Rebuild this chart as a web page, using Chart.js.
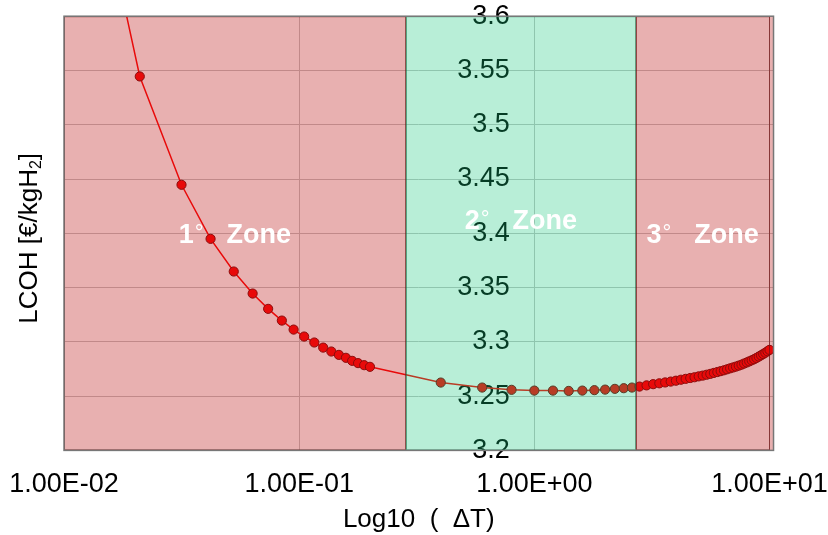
<!DOCTYPE html>
<html>
<head>
<meta charset="utf-8">
<script src="https://cdn.jsdelivr.net/npm/chart.js@4.4.1/dist/chart.umd.min.js"></script>
<style>
  html, body { margin: 0; padding: 0; background: #fff; }
  #wrap { width: 828px; height: 535px; }
</style>
</head>
<body>
<div id="wrap"><canvas id="chart"></canvas></div>
<script>
const FONT = "'Liberation Sans', Arial, sans-serif";

// Delta T values (x, log scale)
const deltaT = [
  0.0105, 0.021, 0.0316, 0.042, 0.0527, 0.0634, 0.0738, 0.0844, 0.0947, 0.105,
  0.116, 0.1265, 0.137, 0.1475, 0.158, 0.168, 0.178, 0.189, 0.2,
  0.4, 0.6, 0.8, 1.0, 1.2, 1.4, 1.6, 1.8, 2.0, 2.2, 2.4, 2.6,
  2.8, 3.0, 3.2, 3.4, 3.6, 3.8, 4.0, 4.2, 4.4, 4.6, 4.8, 5.0, 5.2, 5.4, 5.6, 5.8,
  6.0, 6.2, 6.4, 6.6, 6.8, 7.0, 7.2, 7.4, 7.6, 7.8, 8.0, 8.2, 8.4, 8.6, 8.8,
  9.0, 9.2, 9.4, 9.6, 9.8, 10.0
];
// LCOH [€/kgH2]
const lcoh = [
  3.844, 3.5445, 3.4447, 3.3949, 3.3648, 3.3445, 3.3304, 3.3196, 3.3113, 3.3049,
  3.2994, 3.2947, 3.2911, 3.288, 3.2853, 3.2825, 3.2804, 3.2785, 3.277,
  3.2625, 3.2579, 3.2558, 3.2551, 3.2551, 3.2548, 3.2551, 3.2555, 3.256, 3.2567, 3.2573, 3.2579,
  3.2588, 3.2599, 3.261, 3.2618, 3.2626, 3.2634, 3.2642, 3.2651, 3.2659, 3.2667, 3.2674, 3.2682,
  3.2689, 3.2697, 3.2705, 3.2714, 3.2722, 3.273, 3.2738, 3.2747, 3.2756, 3.2764, 3.2772, 3.2781,
  3.279, 3.28, 3.281, 3.282, 3.283, 3.284, 3.2852, 3.2864, 3.2876, 3.2888, 3.29, 3.2913, 3.2926
];

const xTicks = [0.01, 0.1, 1, 10];
const xTickLabels = ['1.00E-02', '1.00E-01', '1.00E+00', '1.00E+01'];
const yAxisCross = 0.786;   // donde caen las etiquetas del eje Y

// zones
const zoneNames = ['1', '2', '3'];
const zoneStart = [0.01, 0.284, 2.70];
const zoneEnd = [0.284, 2.70, 10];
const zoneLabelY = [3.3913, 3.4041, 3.3913];
const zoneFill = ['rgba(190,30,30,0.35)', 'rgba(21,198,121,0.3)', 'rgba(190,30,30,0.35)'];
const zoneLine = ['rgba(110,20,20,0.7)', 'rgba(20,110,70,0.6)', 'rgba(110,20,20,0.7)'];

// zonas encima de datos y etiquetas (como en el original)
Chart.register({
  id: 'zones',
  afterDatasetsDraw(chart) {
    const { ctx, chartArea: a, scales: { x, y } } = chart;
    ctx.save();
    zoneStart.forEach((s, i) => {
      const x0 = x.getPixelForValue(s);
      const x1 = x.getPixelForValue(zoneEnd[i]);
      const xr = i === zoneStart.length - 1 ? a.right : x1;
      ctx.fillStyle = zoneFill[i];
      ctx.fillRect(x0, a.top, xr - x0, a.bottom - a.top);
      ctx.strokeStyle = zoneLine[i];
      ctx.lineWidth = 1;
      ctx.strokeRect(Math.round(x0) + 0.5, a.top + 0.5, Math.round(x1 - x0) - 1, a.bottom - a.top - 1);
    });
    // marco
    ctx.strokeStyle = '#777';
    ctx.lineWidth = 1.5;
    ctx.strokeRect(a.left, a.top, a.right - a.left, a.bottom - a.top);

    // textos de zona: "N°   Zone"
    ctx.fillStyle = '#fff';
    ctx.textBaseline = 'alphabetic';
    ctx.textAlign = 'left';
    zoneNames.forEach((n, i) => {
      const x0 = x.getPixelForValue(zoneStart[i]);
      const x1 = x.getPixelForValue(zoneEnd[i]);
      ctx.font = `bold 27px ${FONT}`;
      const w1 = ctx.measureText(n).width;
      const w2 = ctx.measureText('Zone').width;
      ctx.font = `22px ${FONT}`;
      const wd = ctx.measureText('°').width;
      const gap = 24;
      const left = (x0 + x1) / 2 - (w1 + wd + gap + w2) / 2;
      const yy = y.getPixelForValue(zoneLabelY[i]);
      ctx.font = `bold 27px ${FONT}`;
      ctx.fillText(n, left, yy);
      ctx.fillText('Zone', left + w1 + wd + gap, yy);
      ctx.font = `22px ${FONT}`;
      ctx.fillText('°', left + w1 + 1, yy - 3);
    });
    ctx.restore();
  },
  afterDraw(chart) {
    // titulo eje Y con subindice
    const { ctx, chartArea: a } = chart;
    ctx.save();
    ctx.translate(30, (a.top + a.bottom) / 2 + 5);
    ctx.rotate(-Math.PI / 2);
    ctx.fillStyle = '#000';
    ctx.textBaseline = 'middle';
    ctx.textAlign = 'left';
    ctx.font = `26px ${FONT}`;
    const main = 'LCOH [€/kgH';
    const wMain = ctx.measureText(main).width;
    ctx.font = `16px ${FONT}`;
    const wSub = ctx.measureText('2').width;
    ctx.font = `26px ${FONT}`;
    const wEnd = ctx.measureText(']').width;
    let cx = -(wMain + wSub + wEnd) / 2;
    ctx.fillText(main, cx, 0);
    cx += wMain;
    ctx.font = `16px ${FONT}`;
    ctx.fillText('2', cx, 7);
    cx += wSub;
    ctx.font = `26px ${FONT}`;
    ctx.fillText(']', cx, 0);
    ctx.restore();
  }
});

new Chart(document.getElementById('chart'), {
  type: 'line',
  data: {
    datasets: [{
      data: deltaT.map((v, i) => ({ x: v, y: lcoh[i] })),
      borderColor: '#ff0000',
      borderWidth: 1.5,
      backgroundColor: '#ff0000',
      pointBackgroundColor: '#ff0000',
      pointBorderColor: '#700000',
      pointBorderWidth: 1,
      pointRadius: 4.6,
      tension: 0,
      fill: false
    }]
  },
  options: {
    responsive: true,
    maintainAspectRatio: false,
    animation: false,
    layout: { padding: { top: 16, right: 54, left: 64, bottom: 0 } },
    plugins: { legend: { display: false }, tooltip: { enabled: false } },
    scales: {
      x: {
        type: 'logarithmic',
        min: 0.01,
        max: 10.4,
        afterBuildTicks: s => { s.ticks = xTicks.map(v => ({ value: v })); },
        grid: { color: '#c4c4c4', drawTicks: true, tickLength: 18, tickColor: 'rgba(0,0,0,0)' },
        border: { display: false },
        ticks: {
          padding: 0, color: '#000', autoSkip: false, maxRotation: 0,
          font: { family: FONT, size: 27 },
          callback: (v, i) => xTickLabels[i]
        },
        title: {
          display: true, text: 'Log10  (  ΔT)', color: '#000',
          font: { family: FONT, size: 26 }, padding: { top: 3, bottom: 0 }
        }
      },
      y: {
        position: { x: yAxisCross },
        min: 3.2,
        max: 3.6,
        grid: { color: '#c4c4c4', drawTicks: false },
        border: { display: false },
        ticks: {
          stepSize: 0.05, color: '#000', padding: 0,
          font: { family: FONT, size: 27 },
          callback: v => String(+v.toFixed(2))
        }
      }
    }
  }
});
</script>
</body>
</html>
